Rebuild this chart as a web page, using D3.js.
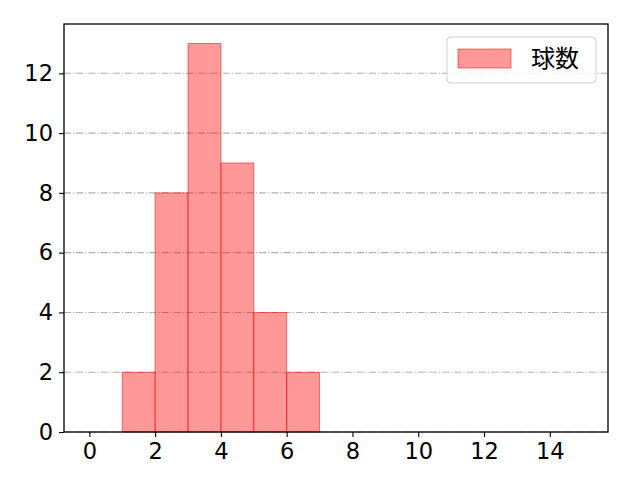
<!DOCTYPE html>
<meta charset="utf-8">
<style>
body { margin: 0; background: #fff; }
text { font-family: "Noto Sans CJK JP", sans-serif; }
</style>
<svg width="640" height="480"></svg>
<script src="https://d3js.org/d3.v7.min.js"></script>
<script>

// histogram bins (left edge, right edge) and counts
var binStarts = [1, 2, 3, 4, 5, 6];
var binEnds = [2, 3, 4, 5, 6, 7];
var counts = [2, 8, 13, 9, 4, 2];
var xTicks = [0, 2, 4, 6, 8, 10, 12, 14];
var yTicks = [0, 2, 4, 6, 8, 10, 12];
var seriesName = "球数";

var svg = d3.select("svg"),
    margin = {top: 24, right: 32, bottom: 48, left: 64},
    w = +svg.attr("width") - margin.left - margin.right,
    height = +svg.attr("height") - margin.top - margin.bottom,
    g = svg.append("g").attr("transform", "translate(" + margin.left + "," + margin.top + ")");

var x = d3.scaleLinear().domain([-0.77, 15.77]).range([0, w]);
var y = d3.scaleLinear().domain([0, 13.65]).range([height, 0]);

// grid
g.append("g")
  .selectAll("line")
  .data(yTicks)
  .enter().append("line")
    .attr("x1", 0)
    .attr("x2", w)
    .attr("y1", function(d) { return y(d); })
    .attr("y2", function(d) { return y(d); })
    .attr("stroke", "#b0b0b0")
    .attr("stroke-width", 1.1)
    .attr("stroke-dasharray", "7,2,1.2,2");

// bars
g.append("g")
  .selectAll("rect")
  .data(counts)
  .enter().append("rect")
    .attr("x", function(d, i) { return x(binStarts[i]); })
    .attr("width", function(d, i) { return x(binEnds[i]) - x(binStarts[i]); })
    .attr("y", function(d) { return y(d); })
    .attr("height", function(d) { return y(0) - y(d); })
    .attr("fill", "rgba(255,0,0,0.4)")
    .attr("stroke", "rgba(255,0,0,0.5)")
    .attr("stroke-width", 1);

// axes
var xAxis = g.append("g")
    .attr("transform", "translate(0," + height + ")")
    .call(d3.axisBottom(x).tickValues(xTicks).tickSize(5).tickPadding(6).tickFormat(d3.format("d")));
var yAxis = g.append("g")
    .call(d3.axisLeft(y).tickValues(yTicks).tickSize(5).tickPadding(6).tickFormat(d3.format("d")));

[xAxis, yAxis].forEach(function(a) {
  a.select(".domain").remove();
  a.selectAll("line").attr("stroke", "#000").attr("stroke-width", 1.1);
  a.selectAll("text").attr("fill", "#000").style("font-size", "22.5px")
    .style("font-family", "'DejaVu Sans', sans-serif");
});

// frame
g.append("rect")
  .attr("width", w)
  .attr("height", height)
  .attr("fill", "none")
  .attr("stroke", "#000")
  .attr("stroke-width", 1.3);

// legend
var legend = g.append("g")
  .attr("transform", "translate(" + (w - 161) + ",13)");
legend.append("rect")
  .attr("width", 149)
  .attr("height", 46)
  .attr("rx", 4)
  .attr("fill", "rgba(255,255,255,0.8)")
  .attr("stroke", "#d0d0d0");
legend.append("rect")
  .attr("x", 11)
  .attr("y", 12)
  .attr("width", 53)
  .attr("height", 19)
  .attr("fill", "rgba(255,0,0,0.4)")
  .attr("stroke", "rgba(255,0,0,0.5)");
legend.append("text")
  .attr("x", 84)
  .attr("y", 22)
  .attr("dy", "0.35em")
  .style("font-size", "24px")
  .text(seriesName);

</script>
